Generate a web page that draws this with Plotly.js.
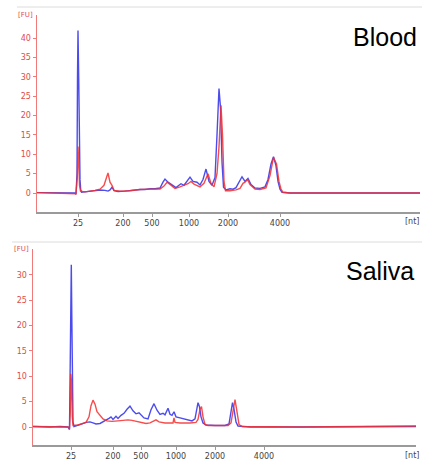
<!DOCTYPE html>
<html><head><meta charset="utf-8">
<script src="https://cdn.plot.ly/plotly-3.0.1.min.js"></script>
<style>html,body{margin:0;padding:0;background:#fff}#chart{width:422px;height:463px}</style>
</head><body><div id="chart"></div>
<script>
// Migration time (s) and fluorescence [FU]
var bloodBlueT = [0,2.6,4.6,6.6,7.6,7.8,8.0,8.1,8.2,8.34,8.46,8.6,8.74,8.9,9.6,10.6,11.6,12.6,13.6,14.2,14.6,15.0,15.4,16.2,17.6,19.6,20.6,21.6,22.6,23.6,24.6,25.2,25.6,26.2,27.0,27.8,28.4,28.8,29.4,30.0,30.6,31.2,32.0,32.6,33.2,33.8,34.4,35.0,35.6,36.0,36.4,36.7,37.0,37.3,37.8,38.6,39.2,39.8,40.4,41.0,41.6,42.2,42.8,43.6,44.6,45.6,46.2,46.8,47.3,47.8,48.2,48.6,49.0,50.6,76.6];
var bloodBlueFU = [0.1,0.0,0.1,0.0,0.0,-0.3,5,30,42,30,10,3.4,1.0,0.2,0.3,0.5,0.6,0.8,0.7,0.5,0.8,1.5,0.6,0.4,0.5,0.8,0.9,0.9,1.1,1.1,1.3,2.8,3.6,2.8,2.0,1.4,2.0,2.4,2.0,3.0,4.1,3.0,2.8,2.1,3.5,6.2,3.0,2.0,4,15,27,22,8,1.5,0.8,1.1,1.0,1.4,2.8,4.2,3.0,3.8,2.2,1.3,1.2,1.6,3.5,7.5,9.4,7,3,1,0.2,0,0];
var bloodRedT = [0,7.8,8.06,8.2,8.36,8.5,8.7,9.6,11.6,12.6,13.4,13.8,14.2,14.6,15.0,15.4,16.6,18.6,20.6,22.6,24.6,25.4,26.0,26.6,27.6,28.6,29.6,30.2,30.8,31.4,32.6,33.4,34.2,34.8,35.4,36.0,36.4,36.8,37.1,37.4,37.7,38.6,39.8,40.6,41.2,41.6,42.1,42.6,43.6,44.6,45.8,46.6,47.3,47.9,48.4,48.8,49.2,50.6,76.6];
var bloodRedFU = [0.1,-0.2,4,12,8,2,0.5,0.3,0.7,1.0,2.0,3.5,5.2,2.8,2.0,0.7,0.5,0.6,0.9,1.0,1.0,1.8,2.8,2.2,1.2,1.6,2.0,2.4,3.0,2.3,1.6,2.5,5.0,2.5,1.6,5,12,22.7,15,3,0.6,0.6,0.8,1.2,2.5,2.8,3.5,2.2,1.0,0.9,1.3,4.5,9.2,7.5,3,1,0.2,0,0];

var salivaBlueT = [0,3.4,5.4,7.0,7.3,7.46,7.56,7.66,7.76,7.86,8.0,8.2,9.0,9.8,10.6,11.4,12.0,12.6,13.4,14.0,14.6,15.2,15.6,16.0,16.6,17.0,17.6,18.2,18.8,19.4,20.0,20.6,21.2,21.6,22.2,23.0,23.6,24.2,24.8,25.4,26.0,26.4,27.0,27.4,27.8,28.2,28.6,29.4,30.2,31.0,31.8,32.4,32.7,33.0,33.3,33.6,34.0,34.6,36.4,38.4,39.2,39.6,39.9,40.2,40.6,41.0,43.4,53.4,76.6];
var salivaBlueFU = [0.1,0.0,0.1,0.0,-0.5,10,25,32,22,8,1.0,0.1,0.3,0.6,0.9,1.0,0.8,0.6,0.7,1.0,1.3,1.7,2.0,1.5,2.1,1.7,2.3,2.7,3.5,4.1,3.2,2.6,2.8,2.4,1.8,1.6,3.4,4.6,3.3,2.5,2.7,2.4,3.7,2.5,2.3,3.0,2.0,1.8,1.6,1.3,1.2,1.6,3.5,4.8,4.0,2.0,0.8,0.4,0.3,0.3,0.6,3.5,4.8,3.5,1.0,0.2,0.0,0.0,0.1];
var salivaRedT = [0,7.0,7.3,7.46,7.56,7.7,7.86,8.0,9.0,9.8,10.6,11.2,11.6,12.0,12.4,12.8,13.4,14.0,14.8,15.8,17.0,18.2,19.0,19.8,21.0,21.8,22.6,23.4,24.2,24.6,25.2,26.4,28.0,28.2,28.4,29.4,31.4,32.6,33.0,33.4,33.7,34.0,34.4,35.0,37.4,39.0,39.6,40.0,40.4,40.8,41.2,41.8,53.4,76.6];
var salivaRedFU = [0.1,0.0,-0.3,3,10.5,9,2,0.3,0.4,0.7,0.9,2.0,4.2,5.3,4.5,3.0,2.2,1.6,1.2,1.1,1.2,1.3,1.4,1.3,1.1,0.9,0.7,0.8,1.2,1.4,1.0,0.8,0.8,1.8,0.9,0.8,0.8,0.9,1.5,3.5,4.0,2.0,0.5,0.3,0.3,0.3,0.8,3.5,5.4,3.0,0.5,0.1,0.0,0.2];

var bloodTickT = [8.2,17.2,23.0,30.4,38.2,48.6];
var salivaTickT = [7.6,16.0,21.6,28.6,36.4,46.2];
var sizeLabels = ['25','200','500','1000','2000','4000'];
var bloodYTicks = [0,5,10,15,20,25,30,35,40];
var salivaYTicks = [0,5,10,15,20,25,30];

var blue = 'rgba(45,45,235,0.85)', red = 'rgba(245,45,45,0.85)';
function tr(x,y,c,xa,ya){return {x:x,y:y,type:'scatter',mode:'lines',line:{color:c,width:1.4},xaxis:xa,yaxis:ya,hoverinfo:'skip',showlegend:false};}
var data = [
  tr(bloodBlueT,bloodBlueFU,blue,'x','y'),
  tr(bloodRedT,bloodRedFU,red,'x','y'),
  tr(salivaBlueT,salivaBlueFU,blue,'x2','y2'),
  tr(salivaRedT,salivaRedFU,red,'x2','y2')
];
var xax = function(ticks,dom,anchor){return {domain:dom,anchor:anchor,range:[0,76.6],tickmode:'array',tickvals:ticks,ticktext:sizeLabels,showgrid:false,zeroline:false,showline:true,linecolor:'#9a9a9a',linewidth:1.5,ticks:'outside',ticklen:3,tickcolor:'#9a9a9a',tickfont:{family:'DejaVu Sans, sans-serif',size:8,color:'#444'},fixedrange:true};};
var yax = function(ticks,rng,dom,anchor){return {domain:dom,anchor:anchor,range:rng,tickmode:'array',tickvals:ticks,showgrid:false,zeroline:false,showline:true,linecolor:'#f07a7a',linewidth:1.5,ticks:'outside',ticklen:3,tickcolor:'#f07a7a',tickfont:{family:'DejaVu Sans, sans-serif',size:8,color:'#e24a4a'},fixedrange:true};};
var layout = {
  width:422,height:463,margin:{l:0,r:0,t:0,b:0},paper_bgcolor:'#fff',plot_bgcolor:'#fff',
  xaxis: xax(bloodTickT,[37/422,420/422],'y'),
  yaxis: yax(bloodYTicks,[-4.9,46],[1-212/463,1-15/463],'x'),
  xaxis2: xax(salivaTickT,[33/422,416/422],'y2'),
  yaxis2: yax(salivaYTicks,[-3.55,35.1],[1-445/463,1-249/463],'x2'),
  shapes:[
    {type:'line',xref:'paper',yref:'paper',x0:17/422,x1:1,y0:1-7/463,y1:1-7/463,line:{color:'#dcdcdc',width:1}},
    {type:'line',xref:'paper',yref:'paper',x0:12/422,x1:1,y0:1-242/463,y1:1-242/463,line:{color:'#dcdcdc',width:1}}
  ],
  annotations:[
    {text:'Blood',xref:'paper',yref:'paper',x:419/422,y:1-37/463,xanchor:'right',yanchor:'middle',showarrow:false,font:{family:'Liberation Sans, Arial, sans-serif',size:25,color:'#000'}},
    {text:'Saliva',xref:'paper',yref:'paper',x:416/422,y:1-271/463,xanchor:'right',yanchor:'middle',showarrow:false,font:{family:'Liberation Sans, Arial, sans-serif',size:25,color:'#000'}},
    {text:'[FU]',xref:'paper',yref:'paper',x:35/422,y:1-15/463,xanchor:'right',yanchor:'middle',showarrow:false,font:{family:'DejaVu Sans, sans-serif',size:7,color:'#e24a4a'}},
    {text:'[FU]',xref:'paper',yref:'paper',x:31/422,y:1-249/463,xanchor:'right',yanchor:'middle',showarrow:false,font:{family:'DejaVu Sans, sans-serif',size:7,color:'#e24a4a'}},
    {text:'[nt]',xref:'paper',yref:'paper',x:420/422,y:1-221/463,xanchor:'right',yanchor:'middle',showarrow:false,borderpad:0,font:{family:'DejaVu Sans, sans-serif',size:8,color:'#444'}},
    {text:'[nt]',xref:'paper',yref:'paper',x:420/422,y:1-455/463,xanchor:'right',yanchor:'middle',showarrow:false,borderpad:0,font:{family:'DejaVu Sans, sans-serif',size:8,color:'#444'}}
  ]
};
Plotly.newPlot('chart',data,layout,{displayModeBar:false,staticPlot:true});
</script></body></html>
